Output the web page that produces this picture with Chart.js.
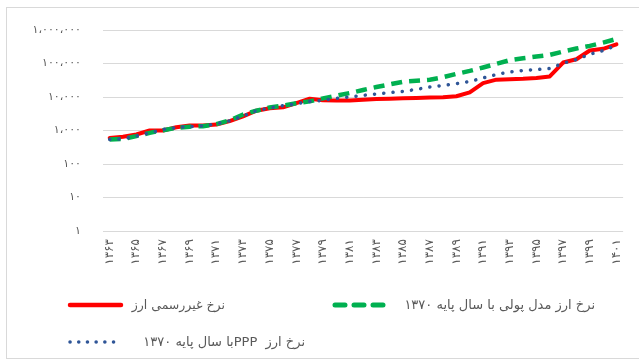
<!DOCTYPE html>
<html>
<head>
<meta charset="utf-8">
<script src="https://cdn.jsdelivr.net/npm/chart.js@4/dist/chart.umd.min.js"></script>
<style>
  html, body { margin:0; padding:0; background:#fff; }
  #wrap { position:relative; width:639px; height:361px; overflow:hidden; }
  #frame { position:absolute; left:6px; top:7px; width:700px; height:352px; border:1px solid #d9d9d9; box-sizing:border-box; }
  canvas { position:absolute; left:0; top:0; }
  .leg { position:absolute; font-family:"DejaVu Sans", sans-serif; font-size:13px; color:#595959; white-space:pre; direction:rtl; line-height:16px; }
  .sw { position:absolute; }
</style>
</head>
<body>
<div id="wrap">
  <div id="frame"></div>
  <canvas id="c" width="639" height="361"></canvas>
  <svg class="sw" style="left:66px;top:299px" width="64" height="12"><line x1="4" y1="6" x2="55" y2="6" stroke="#FF0000" stroke-width="4.5" stroke-linecap="round"/></svg>
  <div class="leg" id="l1" style="right:414px;top:297px;font-size:12.5px"></div>
  <svg class="sw" style="left:330px;top:299px" width="64" height="12"><line x1="5" y1="6" x2="56" y2="6" stroke="#00B050" stroke-width="5" stroke-linecap="round" stroke-dasharray="10,9"/></svg>
  <div class="leg" id="l2" style="right:44px;top:297px"></div>
  <svg class="sw" style="left:66px;top:336px" width="64" height="12"><line x1="4" y1="6" x2="56" y2="6" stroke="#2F5597" stroke-width="3.5" stroke-linecap="round" stroke-dasharray="0.1,8.6"/></svg>
  <div class="leg" id="l3" style="right:334px;top:334px"></div>
</div>
<script>
// ---- data ----
const years = [1363,1364,1365,1366,1367,1368,1369,1370,1371,1372,1373,1374,1375,1376,1377,1378,1379,1380,1381,1382,1383,1384,1385,1386,1387,1388,1389,1390,1391,1392,1393,1394,1395,1396,1397,1398,1399,1400,1401];
const seriesNames = ["نرخ غیررسمی ارز", "نرخ ارز مدل پولی با سال پایه ۱۳۷۰", "نرخ ارز  PPPبا سال پایه ۱۳۷۰"];
const informalRate = [600,650,760,1000,1000,1250,1400,1400,1500,1900,2650,3900,4600,4900,6600,8900,8000,7900,7900,8300,8700,8900,9100,9300,9600,9800,10500,13800,26000,33000,34000,35000,37000,41000,107000,134000,245000,275000,375000];
const monetaryModel = [540,560,680,850,1020,1200,1300,1350,1550,2000,3000,3900,4900,5500,6500,7400,9100,11000,13100,16200,19800,23800,28500,30500,32700,39000,49000,60000,76000,98000,126000,144000,161000,181000,228000,279000,335000,420000,540000];
const pppRate = [540,560,680,850,1070,1230,1300,1380,1580,1940,2700,3900,4700,5500,6300,7300,8000,9100,10000,11200,12300,13500,14700,16900,19800,22200,24900,29000,37000,47000,56000,62000,66000,71000,102000,131000,189000,243000,350000];
const yTicks = [1,10,100,1000,10000,100000,1000000];

// ---- helpers ----
const faDigits = "۰۱۲۳۴۵۶۷۸۹";
function toFa(s){ return String(s).replace(/[0-9]/g, d => faDigits[+d]); }
function fmtNum(n){
  const s = String(Math.round(n)).replace(/\B(?=(\d{3})+(?!\d))/g, "،");
  return toFa(s);
}
document.getElementById('l1').textContent = seriesNames[0];
document.getElementById('l2').textContent = seriesNames[1];
document.getElementById('l3').textContent = seriesNames[2];

const labels = years.map(y => toFa(y));

new Chart(document.getElementById('c'), {
  type: 'line',
  data: {
    labels: labels,
    datasets: [
      { label: seriesNames[0], data: informalRate, borderColor: '#FF0000', borderWidth: 4, pointRadius: 0, tension: 0, order: 2, borderCapStyle: 'round', borderJoinStyle: 'round' },
      { label: seriesNames[1], data: monetaryModel, borderColor: '#00B050', borderWidth: 4.5, borderDash: [11, 7], pointRadius: 0, tension: 0, order: 1 },
      { label: seriesNames[2], data: pppRate, borderColor: '#2F5597', borderWidth: 3.5, borderDash: [0.1, 9.2], borderCapStyle: 'round', pointRadius: 0, tension: 0, order: 0 }
    ]
  },
  options: {
    responsive: false,
    animation: false,
    layout: { padding: { left: 0, right: 12, top: 30, bottom: 0 } },
    plugins: { legend: { display: false }, tooltip: { enabled: false } },
    scales: {
      x: {
        type: 'category',
        offset: true,
        grid: { display: false, drawTicks: false },
        border: { display: false },
        ticks: {
          autoSkip: false, minRotation: 90, maxRotation: 90, padding: 8,
          color: '#595959', font: { family: "DejaVu Sans", size: 12 },
          callback: function(v, i){ return i % 2 === 0 ? labels[i] : ''; }
        },
        afterFit: function(s){ s.height = 130; }
      },
      y: {
        type: 'logarithmic',
        min: 1, max: 1000000,
        afterBuildTicks: function(s){ s.ticks = yTicks.map(v => ({ value: v })); },
        grid: { color: '#d9d9d9', lineWidth: 1, drawTicks: false },
        border: { display: false },
        ticks: { padding: 22, color: '#595959', font: { family: "DejaVu Sans", size: 11 }, callback: v => fmtNum(v) },
        afterFit: function(s){ s.width = 103; }
      }
    }
  }
});
</script>
</body>
</html>
